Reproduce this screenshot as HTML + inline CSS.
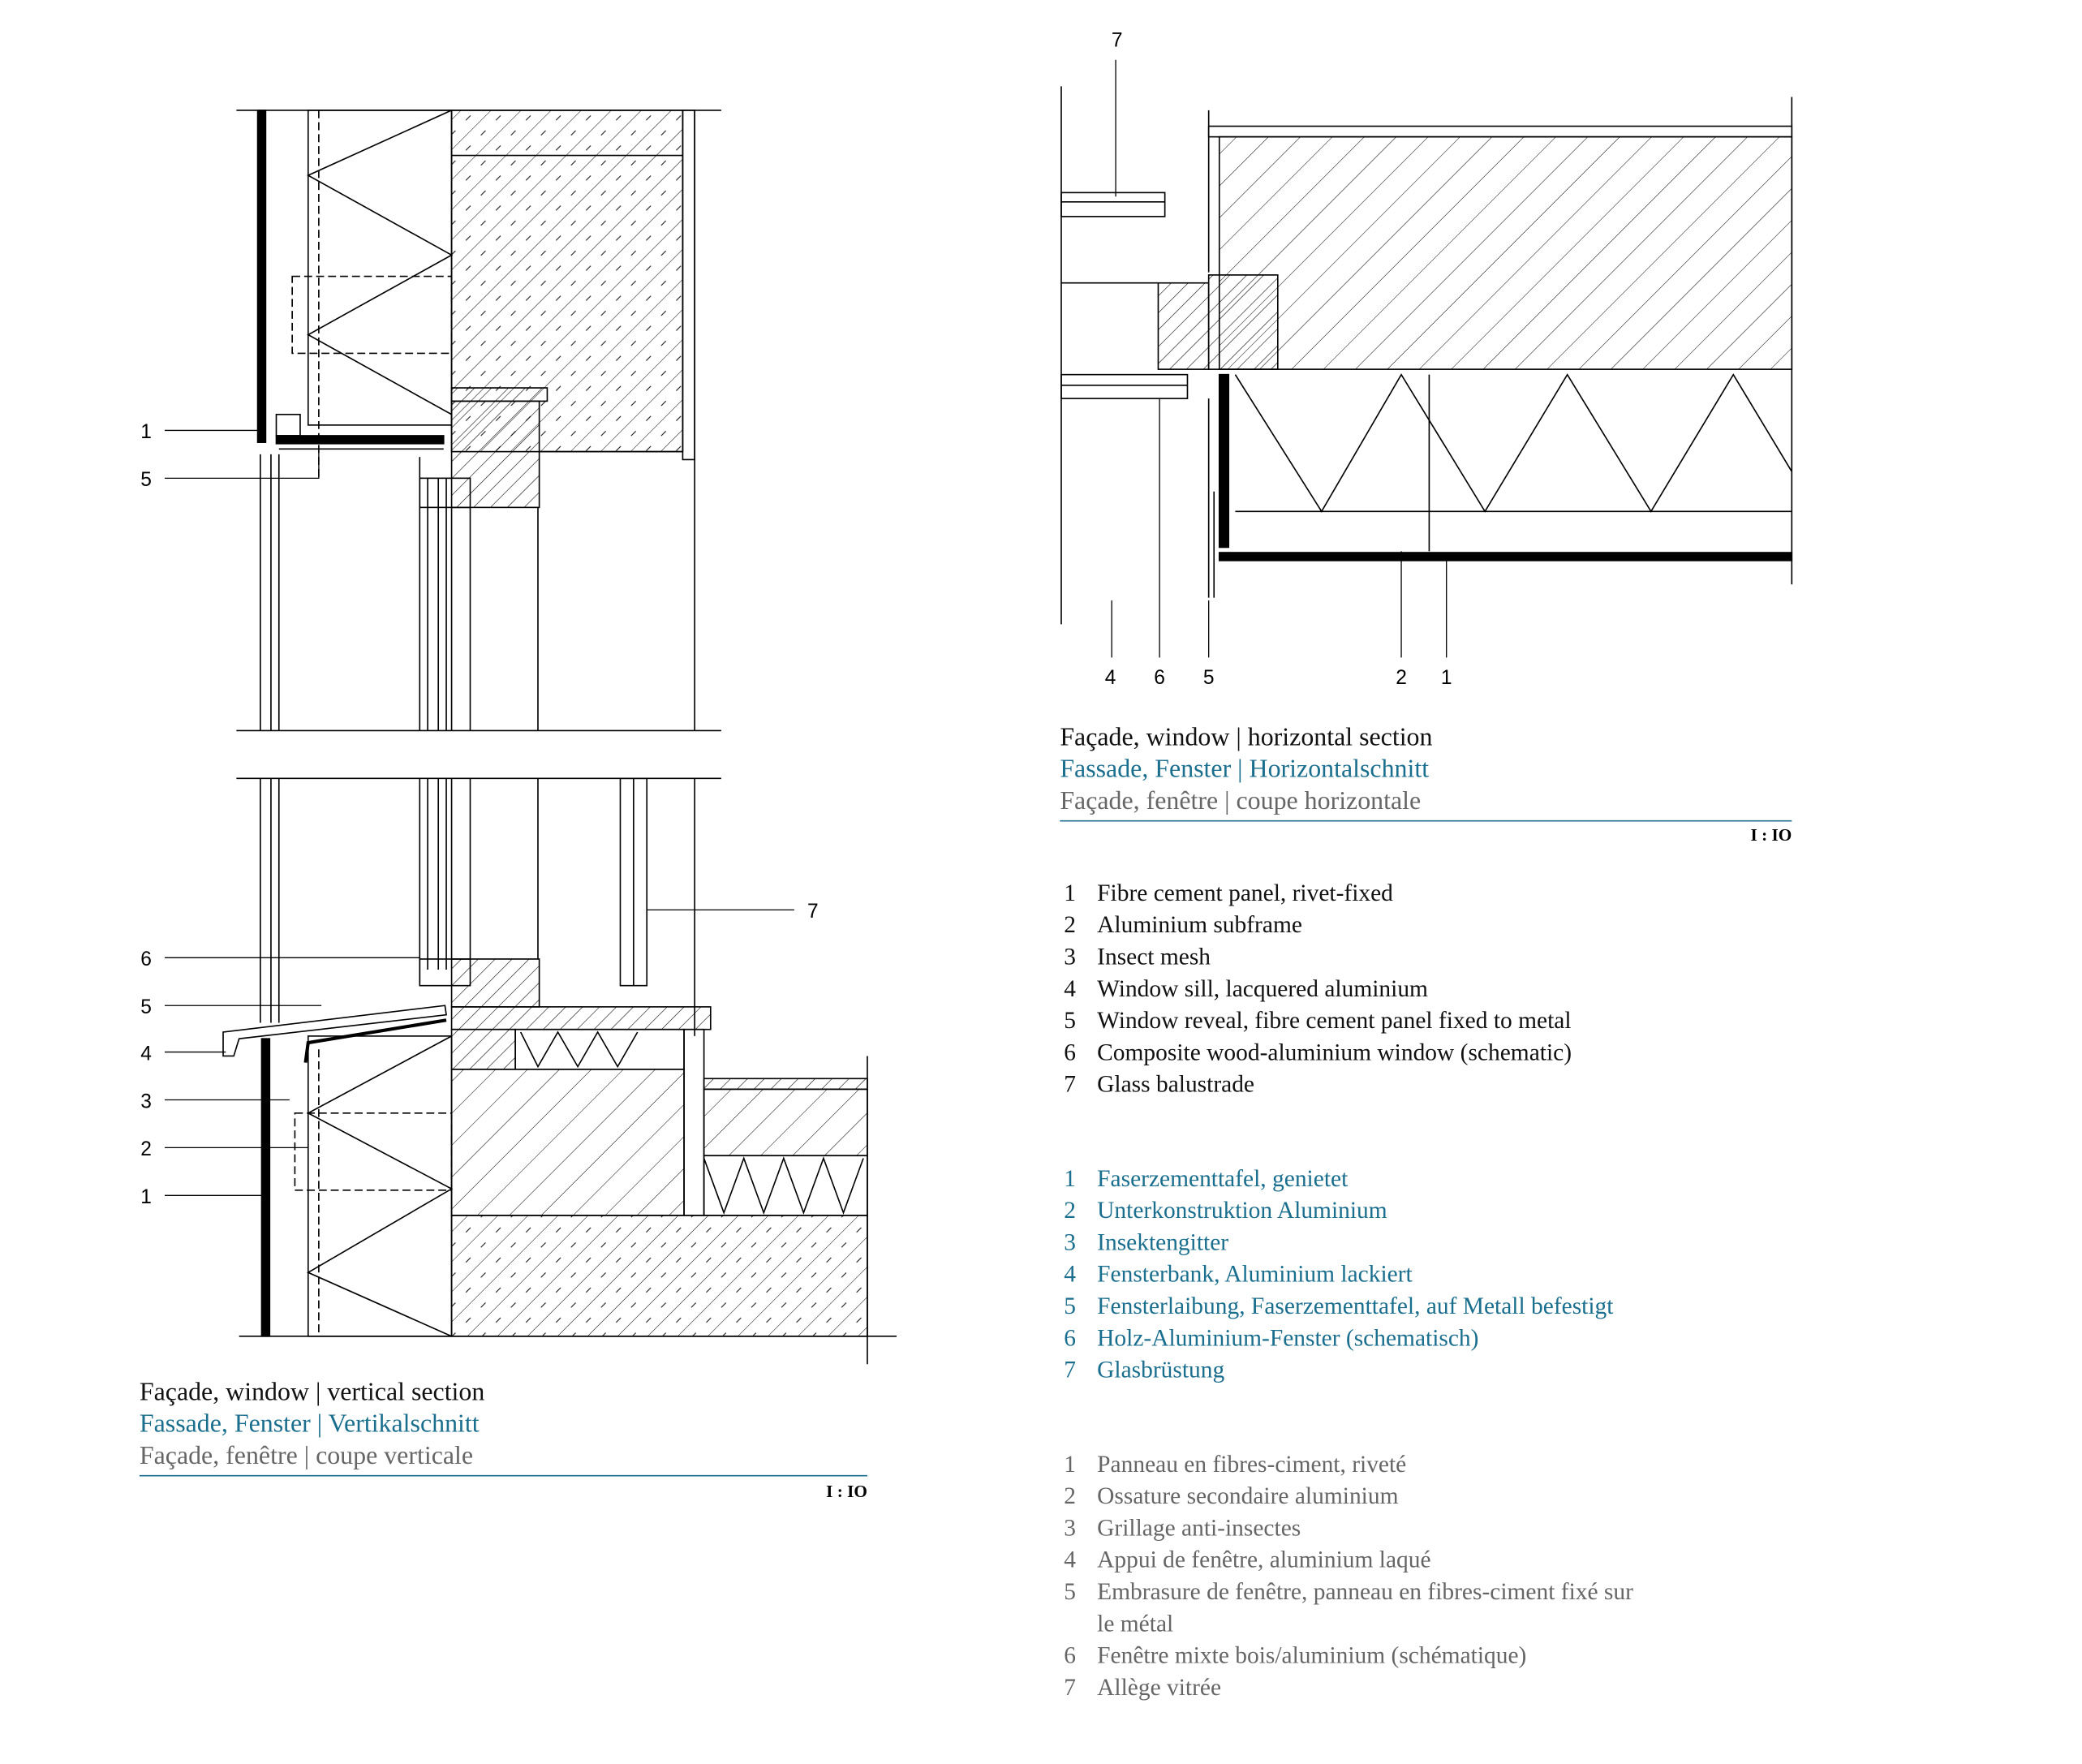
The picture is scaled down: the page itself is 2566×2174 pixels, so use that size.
<!DOCTYPE html>
<html><head><meta charset="utf-8"><style>
html,body{margin:0;padding:0;background:#fff;}
svg{display:block;}
text{font-family:"Liberation Serif",serif;}
.s{font-family:"Liberation Sans",sans-serif;}
</style></head><body>
<svg width="2566" height="2174" viewBox="0 0 1567.5 1328" xmlns="http://www.w3.org/2000/svg">
<defs>
<pattern id="h" width="9" height="9" patternUnits="userSpaceOnUse" patternTransform="rotate(45)">
<line x1="0" y1="0" x2="0" y2="9" stroke="#000" stroke-width="0.7"/></pattern>
<pattern id="c" width="16" height="16" patternUnits="userSpaceOnUse" patternTransform="rotate(45)">
<line x1="0" y1="0" x2="0" y2="16" stroke="#000" stroke-width="0.6"/>
<line x1="8" y1="3" x2="8" y2="8" stroke="#000" stroke-width="0.6"/></pattern>
<pattern id="hh" width="17" height="17" patternUnits="userSpaceOnUse" patternTransform="rotate(45)">
<line x1="0" y1="0" x2="0" y2="17" stroke="#000" stroke-width="0.6"/></pattern>
</defs>
<g fill="none" stroke="#000" stroke-width="1">
<line x1="178" y1="83" x2="543" y2="83"/>
<line x1="178" y1="550" x2="543" y2="550"/>
<rect x="340" y="83" width="174" height="257" fill="url(#c)"/>
<line x1="340" y1="117" x2="514" y2="117"/>
<rect x="514" y="83" width="9" height="263"/>
<line x1="523" y1="83" x2="523" y2="550"/>
<rect x="232" y="83" width="108" height="237"/>
<polyline points="340,83 232,132 340,192 232,252 340,312"/>
<line x1="240" y1="83" x2="240" y2="360" stroke-dasharray="6,3"/>
<rect x="220" y="208" width="120" height="58" stroke-dasharray="6,3"/>
<rect x="340" y="292" width="72" height="10" fill="url(#h)"/>
<rect x="340" y="302" width="66" height="80" fill="url(#h)"/>
<line x1="406" y1="340" x2="514" y2="340"/>
<rect x="194" y="83" width="6" height="250" fill="#000"/>
<rect x="208" y="328" width="126" height="6" fill="#000"/>
<rect x="208" y="312" width="18" height="16"/>
<line x1="124" y1="324" x2="196" y2="324" stroke-width="0.8"/>
<polyline points="124,360 240,360 240,340" stroke-width="0.8"/>
<line x1="196" y1="342" x2="196" y2="550"/><line x1="204" y1="342" x2="204" y2="550"/>
<line x1="210" y1="342" x2="210" y2="550"/>
<line x1="210" y1="338" x2="334" y2="338"/>
<line x1="316" y1="344" x2="316" y2="550"/><line x1="322" y1="360" x2="322" y2="550"/>
<line x1="330" y1="360" x2="330" y2="550"/><line x1="336" y1="360" x2="336" y2="550"/>
<line x1="340" y1="382" x2="340" y2="550"/><line x1="354" y1="382" x2="354" y2="550"/>
<line x1="405" y1="382" x2="405" y2="550"/>
<rect x="316" y="360" width="38" height="22"/>
<line x1="178" y1="586" x2="543" y2="586"/>
<line x1="196" y1="586" x2="196" y2="770"/><line x1="204" y1="586" x2="204" y2="770"/>
<line x1="210" y1="586" x2="210" y2="770"/>
<line x1="316" y1="586" x2="316" y2="740"/><line x1="322" y1="586" x2="322" y2="730"/>
<line x1="330" y1="586" x2="330" y2="730"/><line x1="336" y1="586" x2="336" y2="730"/>
<line x1="340" y1="586" x2="340" y2="722"/><line x1="354" y1="586" x2="354" y2="722"/>
<line x1="405" y1="586" x2="405" y2="722"/><line x1="523" y1="586" x2="523" y2="780"/>
<rect x="467" y="586" width="20" height="156"/><line x1="477" y1="586" x2="477" y2="742"/>
<line x1="487" y1="685" x2="598" y2="685" stroke-width="0.8"/>
<rect x="340" y="722" width="66" height="36" fill="url(#h)"/>
<rect x="316" y="722" width="38" height="20"/>
<polygon points="168,777 335,757 336,764 180,782 176,795 168,795"/>
<rect x="340" y="758" width="195" height="17" fill="url(#h)"/>
<rect x="340" y="775" width="48" height="30" fill="url(#h)"/>
<rect x="388" y="775" width="127" height="30"/>
<polyline points="392,777 405,803 420,777 435,803 450,777 465,803 480,777"/>
<rect x="340" y="805" width="175" height="110" fill="url(#hh)"/>
<rect x="515" y="775" width="15" height="140"/>
<rect x="530" y="812" width="123" height="8" fill="url(#h)"/>
<rect x="530" y="820" width="123" height="50" fill="url(#hh)"/>
<rect x="530" y="870" width="123" height="45"/>
<polyline points="530,872 545,913 560,872 575,913 590,872 605,913 620,872 635,913 650,872"/>
<rect x="340" y="915" width="313" height="91" fill="url(#c)"/>
<line x1="653" y1="795" x2="653" y2="1027"/>
<line x1="180" y1="1006" x2="675" y2="1006"/>
<rect x="232" y="780" width="108" height="226"/>
<polyline points="340,780 232,838 340,895 232,958 340,1006"/>
<line x1="240" y1="790" x2="240" y2="1006" stroke-dasharray="6,3"/>
<rect x="222" y="838" width="118" height="58" stroke-dasharray="6,3"/>
<rect x="197" y="782" width="6" height="224" fill="#000"/>
<polyline points="230,800 232,785 336,768" stroke-width="2.5"/>
<g stroke-width="0.8">
<line x1="124" y1="721" x2="316" y2="721"/><line x1="124" y1="757" x2="242" y2="757"/>
<line x1="124" y1="792" x2="170" y2="792"/><line x1="124" y1="828" x2="218" y2="828"/>
<line x1="124" y1="864" x2="232" y2="864"/><line x1="124" y1="900" x2="197" y2="900"/>
</g>
<line x1="840" y1="45" x2="840" y2="148" stroke-width="0.8"/>
<line x1="799" y1="65" x2="799" y2="470"/>
<line x1="910" y1="83" x2="910" y2="205"/>
<rect x="910" y="95" width="439" height="8"/>
<rect x="918" y="103" width="431" height="175" fill="url(#hh)"/>
<line x1="1349" y1="73" x2="1349" y2="440"/>
<rect x="799" y="145" width="78" height="18"/><line x1="799" y1="152" x2="877" y2="152"/>
<line x1="799" y1="213" x2="872" y2="213"/>
<rect x="872" y="213" width="38" height="65" fill="url(#h)"/>
<rect x="910" y="207" width="52" height="71" fill="url(#h)"/>
<rect x="799" y="282" width="95" height="18"/><line x1="799" y1="290" x2="894" y2="290"/>
<line x1="930" y1="385" x2="1349" y2="385"/>
<line x1="1076" y1="282" x2="1076" y2="415"/>
<polyline points="930,282 995,385 1055,282 1118,385 1180,282 1243,385 1305,282 1349,355"/>
<rect x="918" y="282" width="7" height="130" fill="#000"/>
<rect x="918" y="416" width="431" height="6" fill="#000"/>
<line x1="910" y1="300" x2="910" y2="450"/><line x1="914" y1="370" x2="914" y2="450"/>
<g stroke-width="0.8">
<line x1="837" y1="452" x2="837" y2="495"/><line x1="873" y1="300" x2="873" y2="495"/>
<line x1="910" y1="452" x2="910" y2="495"/><line x1="1055" y1="415" x2="1055" y2="495"/>
<line x1="1089" y1="422" x2="1089" y2="495"/>
</g>
<line x1="105" y1="1111" x2="653" y2="1111" stroke="#1a6e8e"/>
<line x1="798" y1="618" x2="1349" y2="618" stroke="#1a6e8e"/>
</g>
<g class="s" font-size="15" fill="#000" text-anchor="middle">
<text class="s" x="110" y="330">1</text><text class="s" x="110" y="366">5</text>
<text class="s" x="110" y="727">6</text><text class="s" x="110" y="763">5</text>
<text class="s" x="110" y="798">4</text><text class="s" x="110" y="834">3</text>
<text class="s" x="110" y="870">2</text><text class="s" x="110" y="906">1</text>
<text class="s" x="612" y="691">7</text><text class="s" x="841" y="35">7</text>
<text class="s" x="836" y="515">4</text><text class="s" x="873" y="515">6</text>
<text class="s" x="910" y="515">5</text><text class="s" x="1055" y="515">2</text>
<text class="s" x="1089" y="515">1</text>
</g>
<g font-size="19.5">
<text x="105" y="1054" fill="#111">Façade, window | vertical section</text>
<text x="105" y="1078" fill="#1a6e8e">Fassade, Fenster | Vertikalschnitt</text>
<text x="105" y="1102" fill="#666">Façade, fenêtre | coupe verticale</text>
<text x="798" y="561" fill="#111">Façade, window | horizontal section</text>
<text x="798" y="585" fill="#1a6e8e">Fassade, Fenster | Horizontalschnitt</text>
<text x="798" y="609" fill="#666">Façade, fenêtre | coupe horizontale</text>
</g>
<text x="653" y="1127" font-size="13" text-anchor="end" font-weight="bold">I : IO</text>
<text x="1349" y="633" font-size="13" text-anchor="end" font-weight="bold">I : IO</text>
<g font-size="18" fill="#111">
<text x="801" y="678">1</text><text x="826" y="678">Fibre cement panel, rivet-fixed</text>
<text x="801" y="702">2</text><text x="826" y="702">Aluminium subframe</text>
<text x="801" y="726">3</text><text x="826" y="726">Insect mesh</text>
<text x="801" y="750">4</text><text x="826" y="750">Window sill, lacquered aluminium</text>
<text x="801" y="774">5</text><text x="826" y="774">Window reveal, fibre cement panel fixed to metal</text>
<text x="801" y="798">6</text><text x="826" y="798">Composite wood-aluminium window (schematic)</text>
<text x="801" y="822">7</text><text x="826" y="822">Glass balustrade</text>
</g>
<g font-size="18" fill="#1a6e8e">
<text x="801" y="893">1</text><text x="826" y="893">Faserzementtafel, genietet</text>
<text x="801" y="917">2</text><text x="826" y="917">Unterkonstruktion Aluminium</text>
<text x="801" y="941">3</text><text x="826" y="941">Insektengitter</text>
<text x="801" y="965">4</text><text x="826" y="965">Fensterbank, Aluminium lackiert</text>
<text x="801" y="989">5</text><text x="826" y="989">Fensterlaibung, Faserzementtafel, auf Metall befestigt</text>
<text x="801" y="1013">6</text><text x="826" y="1013">Holz-Aluminium-Fenster (schematisch)</text>
<text x="801" y="1037">7</text><text x="826" y="1037">Glasbrüstung</text>
</g>
<g font-size="18" fill="#666">
<text x="801" y="1108">1</text><text x="826" y="1108">Panneau en fibres-ciment, riveté</text>
<text x="801" y="1132">2</text><text x="826" y="1132">Ossature secondaire aluminium</text>
<text x="801" y="1156">3</text><text x="826" y="1156">Grillage anti-insectes</text>
<text x="801" y="1180">4</text><text x="826" y="1180">Appui de fenêtre, aluminium laqué</text>
<text x="801" y="1204">5</text><text x="826" y="1204">Embrasure de fenêtre, panneau en fibres-ciment fixé sur</text>
<text x="826" y="1228">le métal</text>
<text x="801" y="1252">6</text><text x="826" y="1252">Fenêtre mixte bois/aluminium (schématique)</text>
<text x="801" y="1276">7</text><text x="826" y="1276">Allège vitrée</text>
</g>
</svg>
</body></html>
